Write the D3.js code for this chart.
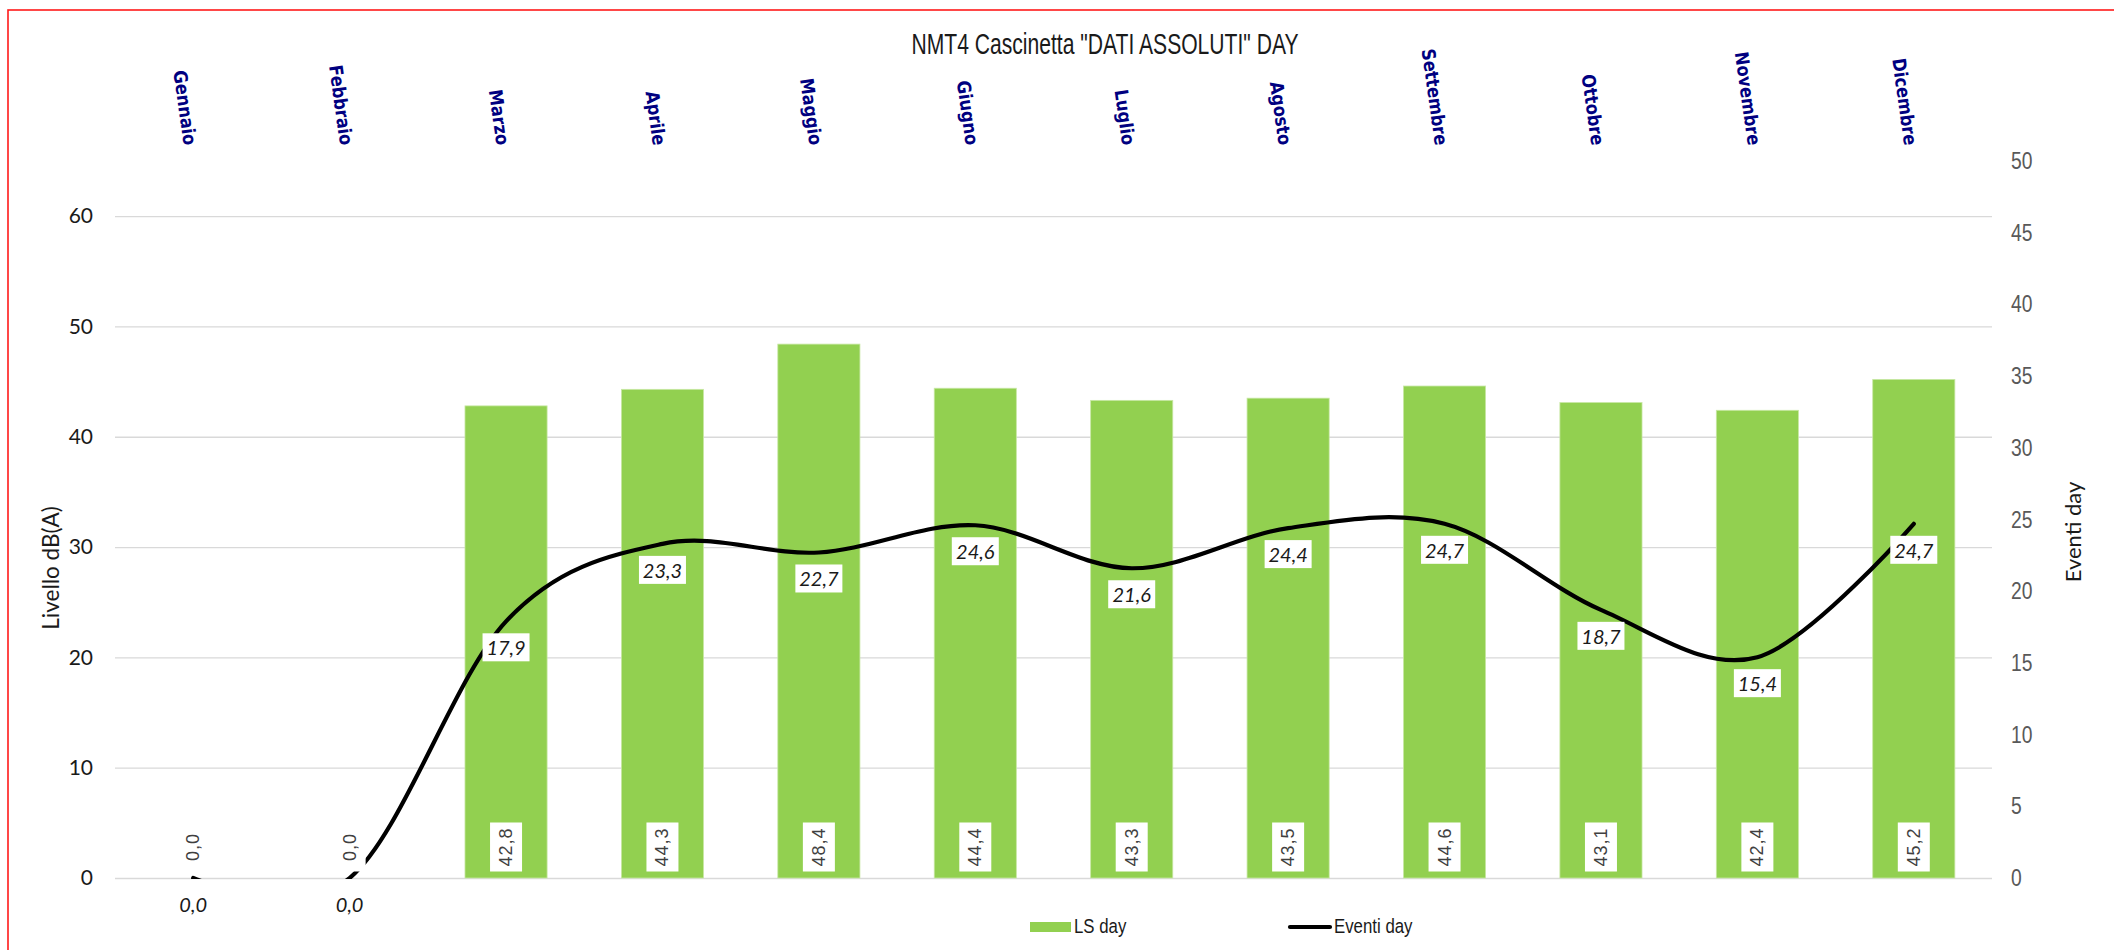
<!DOCTYPE html>
<html>
<head>
<meta charset="utf-8">
<script src="https://cdn.jsdelivr.net/npm/d3@7"></script>
<style>
  html, body { margin: 0; padding: 0; background: #ffffff; }
  svg { display: block; }
</style>
</head>
<body>
<svg id="chart" width="2114" height="950"></svg>
<script>
// ---------- DATA ----------
const chartTitle = 'NMT4 Cascinetta "DATI ASSOLUTI" DAY';
const months = ["Gennaio","Febbraio","Marzo","Aprile","Maggio","Giugno","Luglio","Agosto","Settembre","Ottobre","Novembre","Dicembre"];
const lsDay = [0.0, 0.0, 42.8, 44.3, 48.4, 44.4, 43.3, 43.5, 44.6, 43.1, 42.4, 45.2];
const eventiDay = [0.0, 0.0, 17.9, 23.3, 22.7, 24.6, 21.6, 24.4, 24.7, 18.7, 15.4, 24.7];
const leftTicks = [0, 10, 20, 30, 40, 50, 60];
const rightTicks = [0, 5, 10, 15, 20, 25, 30, 35, 40, 45, 50];
const leftTitle = "Livello dB(A)";
const rightTitle = "Eventi day";
const seriesNames = ["LS day", "Eventi day"];

// ---------- LAYOUT ----------
const W = 2114, H = 950;
const plot = { left: 115, right: 1992, top: 161, bottom: 878 };
const barColor = "#92D050";
const navy = "#000080";
const narrowFamily = "'Liberation Sans Narrow', 'Arial Narrow', 'Liberation Sans', Arial, sans-serif";
const calibriLike = "Lato, 'Open Sans', sans-serif";

const svg = d3.select("#chart");
const fmt = d3.formatLocale({ decimal: ",", thousands: ".", grouping: [3], currency: ["", "€"] }).format(".1f");

// detect narrow font availability (compare against monospace fallback)
const probe = svg.append("text").attr("font-size", 40).text("Eventi day ABCmmm");
probe.attr("font-family", "'Liberation Sans Narrow', monospace");
const wNarrow = probe.node().getComputedTextLength();
probe.attr("font-family", "monospace");
const wMono = probe.node().getComputedTextLength();
probe.remove();
const narrowFactor = Math.abs(wNarrow - wMono) < 0.5 ? 0.82 : 1.0;
function squeeze(sel, f) {
  if (f === 1) return;
  sel.each(function () {
    const len = this.getComputedTextLength();
    d3.select(this).attr("textLength", len * f).attr("lengthAdjust", "spacingAndGlyphs");
  });
}
const narrowFit = sel => squeeze(sel, narrowFactor);

// ---------- SCALES ----------
const x = d3.scaleBand().domain(months).range([plot.left, plot.right]).paddingInner(0.475).paddingOuter(0.2375);
const xc = m => x(m) + x.bandwidth() / 2;
const yL = d3.scaleLinear().domain([0, 65]).range([plot.bottom, plot.top]);
const yR = d3.scaleLinear().domain([0, 50]).range([plot.bottom, plot.top]);

// ---------- FRAME ----------
svg.append("rect").attr("x", 8).attr("y", 10).attr("width", W + 50).attr("height", H + 50)
  .attr("fill", "none").attr("stroke", "#ff1a1a").attr("stroke-width", 1.6);

// ---------- TITLE ----------
svg.append("text").attr("x", 1105).attr("y", 54).attr("text-anchor", "middle")
  .attr("font-family", narrowFamily).attr("font-size", 30).attr("fill", "#1a1a1a")
  .text(chartTitle)
  .each(function () { d3.select(this).attr("textLength", 387).attr("lengthAdjust", "spacingAndGlyphs"); });

// ---------- LEFT AXIS + GRID ----------
const gL = svg.append("g").attr("transform", `translate(${plot.left},0)`)
  .call(d3.axisLeft(yL).tickValues(leftTicks).tickSize(-(plot.right - plot.left)).tickPadding(22).tickFormat(d3.format("d")));
gL.select(".domain").remove();
gL.selectAll(".tick line").attr("stroke", "#d9d9d9").attr("stroke-width", 1.3);
gL.selectAll(".tick text").attr("font-family", calibriLike).attr("font-size", 21).attr("fill", "#1a1a1a");

// ---------- RIGHT AXIS ----------
const gR = svg.append("g").attr("transform", `translate(${plot.right},0)`)
  .call(d3.axisRight(yR).tickValues(rightTicks).tickSize(0).tickPadding(19).tickFormat(d3.format("d")));
gR.select(".domain").remove();
gR.selectAll(".tick text").attr("font-family", narrowFamily).attr("font-size", 23.5).attr("fill", "#595959").call(narrowFit);

// ---------- AXIS TITLES ----------
svg.append("text").attr("transform", "translate(59,568) rotate(-90)").attr("text-anchor", "middle")
  .attr("font-family", calibriLike).attr("font-size", 22.5).attr("fill", "#1a1a1a").text(leftTitle);
svg.append("text").attr("transform", "translate(2081,532) rotate(-90)").attr("text-anchor", "middle")
  .attr("font-family", calibriLike).attr("font-size", 22).attr("fill", "#1a1a1a").text(rightTitle);

// ---------- MONTH LABELS (top) ----------
svg.append("g").selectAll("text").data(months).join("text")
  .attr("transform", d => `translate(${xc(d) - 3},145) rotate(82)`)
  .attr("text-anchor", "end").attr("dominant-baseline", "central")
  .attr("font-family", "'DejaVu Sans', Verdana, sans-serif").attr("font-weight", "bold")
  .attr("font-size", 18.5).attr("fill", navy).text(d => d)
  .call(sel => squeeze(sel, 0.88));

// ---------- BARS ----------
svg.append("g").selectAll("rect").data(months).join("rect")
  .attr("x", d => x(d)).attr("width", x.bandwidth())
  .attr("y", (d, i) => yL(lsDay[i])).attr("height", (d, i) => yL(0) - yL(lsDay[i]))
  .attr("fill", barColor).attr("stroke", "#c8e8a4").attr("stroke-width", 0.8);

// ---------- LINE ----------
svg.append("clipPath").attr("id", "plotClip").append("rect")
  .attr("x", plot.left).attr("y", plot.top).attr("width", plot.right - plot.left).attr("height", plot.bottom - plot.top + 1);
const line = d3.line().x((d, i) => xc(months[i])).y(d => yR(d)).curve(d3.curveCardinal.tension(0));
svg.append("path").datum(eventiDay).attr("d", line).attr("clip-path", "url(#plotClip)")
  .attr("fill", "none").attr("stroke", "#000").attr("stroke-width", 4.2).attr("stroke-linecap", "round");

// ---------- BAR LABELS ----------
const bl = svg.append("g").selectAll("g").data(months).join("g")
  .attr("transform", d => `translate(${xc(d)},847) rotate(-90)`);
bl.append("rect").attr("x", -24.5).attr("y", -16).attr("width", 49).attr("height", 32).attr("fill", "#fff");
bl.append("text").attr("text-anchor", "middle").attr("dominant-baseline", "central")
  .attr("font-family", "'Liberation Sans', Arial, sans-serif").attr("font-size", 18).attr("letter-spacing", 1)
  .attr("fill", "#404040").text((d, i) => fmt(lsDay[i]));

// ---------- LINE LABELS ----------
const ll = svg.append("g").selectAll("g").data(months).join("g")
  .attr("transform", (d, i) => `translate(${xc(d)},${yR(eventiDay[i]) + 26})`);
ll.append("rect").attr("x", -23.5).attr("y", -14).attr("width", 47).attr("height", 28)
  .attr("fill", (d, i) => eventiDay[i] === 0 ? "none" : "#fff");
ll.append("text").attr("text-anchor", "middle").attr("dominant-baseline", "central")
  .attr("font-family", calibriLike).attr("font-style", "italic").attr("font-size", 20)
  .attr("fill", "#1a1a1a").text((d, i) => fmt(eventiDay[i]));

// ---------- LEGEND ----------
const lg = svg.append("g");
lg.append("rect").attr("x", 1030).attr("y", 922).attr("width", 41).attr("height", 10).attr("fill", barColor);
lg.append("text").attr("x", 1074).attr("y", 933).attr("font-family", narrowFamily).attr("font-size", 20.5)
  .attr("fill", "#1a1a1a").text(seriesNames[0]).call(narrowFit);
lg.append("line").attr("x1", 1290).attr("x2", 1330).attr("y1", 927).attr("y2", 927)
  .attr("stroke", "#000").attr("stroke-width", 4.2).attr("stroke-linecap", "round");
lg.append("text").attr("x", 1334).attr("y", 933).attr("font-family", narrowFamily).attr("font-size", 20.5)
  .attr("fill", "#1a1a1a").text(seriesNames[1]).call(narrowFit);
</script>
</body>
</html>
